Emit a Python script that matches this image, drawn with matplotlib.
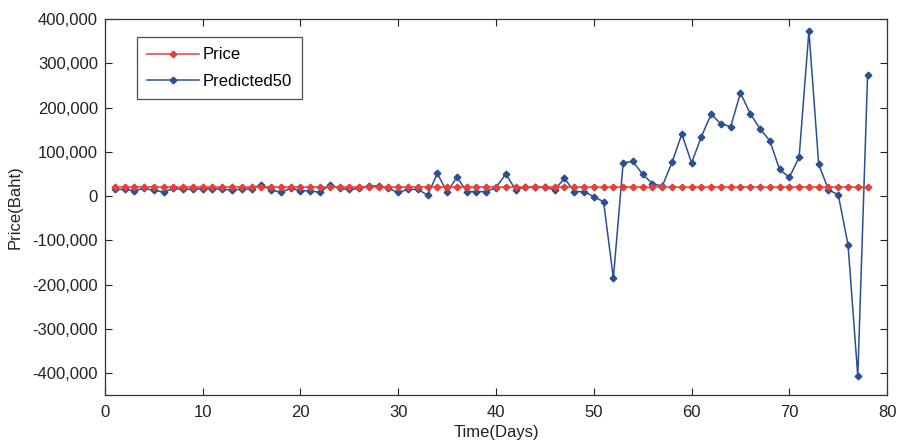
import matplotlib
matplotlib.use("Agg")
import matplotlib.pyplot as plt
from matplotlib.ticker import FuncFormatter, MultipleLocator

days = list(range(1, 79))
price = [20000] * 78
predicted50 = [
    15000, 15000, 12000, 17000, 13000, 9000, 17000, 15000, 16000, 16000,
    16000, 16000, 13000, 16000, 16000, 26000, 13000, 9000, 17000, 12000,
    12000, 8000, 26000, 17000, 15000, 17000, 23000, 23000, 17000, 8000,
    15000, 15000, 2000, 51000, 8000, 43000, 10000, 10000, 10000, 19000,
    50000, 14000, 20000, 20000, 20000, 14000, 40000, 10000, 10000, -1500,
    -13000, -186000, 75000, 78000, 49000, 28000, 22000, 76000, 140000, 75000,
    134000, 185000, 163000, 157000, 233000, 186000, 152000, 125000, 60000, 42000,
    88000, 373000, 72000, 14000, 3000, -110000, -407000, 273000,
]
series_names = ["Price", "Predicted50"]
x_label = "Time(Days)"
y_label = "Price(Baht)"

plt.rcParams["font.family"] = ["Liberation Sans", "DejaVu Sans"]

fig = plt.figure(figsize=(8.97, 4.42), dpi=100)
ax = fig.add_axes([0.117, 0.106, 0.872, 0.851])

red = "#e4413c"
blue = "#2c4f8f"
ax.plot(days, price, color=red, lw=1.1, marker="D", ms=3.4, mfc=red, mec=red,
        label=series_names[0], zorder=3)
ax.plot(days, predicted50, color=blue, lw=1.1, marker="D", ms=3.4, mfc=blue, mec=blue,
        label=series_names[1], zorder=2)

ax.set_xlim(0, 80)
ax.set_ylim(-450000, 400000)
ax.xaxis.set_major_locator(MultipleLocator(10))
ax.yaxis.set_major_locator(MultipleLocator(100000))
ax.yaxis.set_major_formatter(FuncFormatter(lambda v, p: f"{int(round(v)):,}"))
ax.tick_params(direction="in", top=True, right=True, length=5, width=0.8,
               labelsize=12, colors="#222222", pad=5)
ax.tick_params(axis="x", pad=7)
for s in ax.spines.values():
    s.set_linewidth(0.9)
    s.set_color("#333333")

ax.set_xlabel(x_label, fontsize=12, labelpad=4, color="#222222")
ax.set_ylabel(y_label, fontsize=12, labelpad=7, color="#222222")

leg = ax.legend(loc="upper left", bbox_to_anchor=(0.041, 0.951), fontsize=12,
                frameon=True, fancybox=False, edgecolor="#222222", borderpad=0.6,
                handlelength=3.1, handletextpad=0.25, labelspacing=0.7,
                borderaxespad=0)
leg.get_frame().set_linewidth(0.9)

fig.savefig("out.png", dpi=100, facecolor="white")
